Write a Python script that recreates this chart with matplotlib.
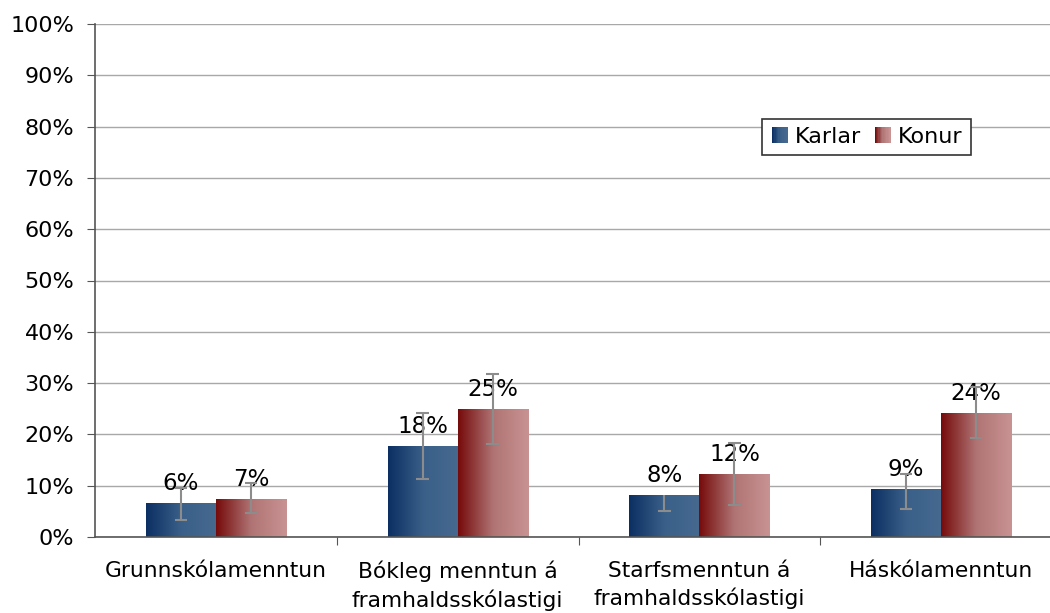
import numpy as np
import matplotlib
matplotlib.use("Agg")
import matplotlib.pyplot as plt
from matplotlib.colors import LinearSegmentedColormap
from matplotlib.patches import Rectangle
from matplotlib.legend_handler import HandlerPatch

categories = ["Grunnskólamenntun", "Bókleg menntun á\nframhaldsskólastigi",
              "Starfsmenntun á\nframhaldsskólastigi", "Háskólamenntun"]
karlar = [0.066, 0.177, 0.082, 0.094]
konur = [0.074, 0.250, 0.123, 0.242]
karlar_err_lo = [0.033, 0.064, 0.031, 0.039]
karlar_err_hi = [0.029, 0.065, 0.0, 0.029]
konur_err_lo = [0.027, 0.069, 0.061, 0.049]
konur_err_hi = [0.031, 0.068, 0.060, 0.050]
labels_karlar = ["6%", "18%", "8%", "9%"]
labels_konur = ["7%", "25%", "12%", "24%"]

blue_cmap = LinearSegmentedColormap.from_list("blue", ["#0b2f62", "#3a6089", "#46698f"])
red_cmap = LinearSegmentedColormap.from_list("red", ["#760a0a", "#b07474", "#c99393"])

plt.rcParams['font.family'] = ['DejaVu Sans']

fig = plt.figure(figsize=(10.5, 6.13), dpi=100)
ax = fig.add_axes([95 / 1050, (613 - 537) / 613, 967 / 1050, 513 / 613])

x = np.arange(len(categories))
w = 0.29


def grad_bars(xs, vals, cmap):
    bars = ax.bar(xs, vals, w, facecolor="none", edgecolor="none", zorder=2)
    grad = np.linspace(0, 1, 256).reshape(1, -1)
    for b in bars:
        x0, y0 = b.get_x(), b.get_y()
        im = ax.imshow(grad, cmap=cmap, aspect="auto", zorder=2,
                       extent=[x0, x0 + b.get_width(), y0, y0 + b.get_height()])
        im.set_clip_path(b)
    return bars


grad_bars(x - w / 2, karlar, blue_cmap)
grad_bars(x + w / 2, konur, red_cmap)


def err_bars(xs, vals, lo, hi):
    cap = 0.026
    for xi, v, l, h in zip(xs, vals, lo, hi):
        ax.vlines(xi, v - l, v + h, color="#8c8c8c", lw=1.5, zorder=4)
        ax.hlines(v - l, xi - cap, xi + cap, color="#8c8c8c", lw=1.5, zorder=4)
        if h > 0:
            ax.hlines(v + h, xi - cap, xi + cap, color="#8c8c8c", lw=1.5, zorder=4)


err_bars(x - w / 2, karlar, karlar_err_lo, karlar_err_hi)
err_bars(x + w / 2, konur, konur_err_lo, konur_err_hi)

for xs, vals, labs in [(x - w / 2, karlar, labels_karlar), (x + w / 2, konur, labels_konur)]:
    for xi, v, lab in zip(xs, vals, labs):
        ax.annotate(lab, (xi, v), xytext=(0, 9.5), textcoords="offset points",
                    ha="center", va="baseline", fontsize=16.5, zorder=3)

ax.set_xlim(-0.5, len(categories) - 0.5)
ax.set_ylim(0, 1)
yt = np.arange(0, 1.01, 0.1)
ax.set_yticks(yt)
ax.set_yticklabels([f"{int(round(t * 100))}%" for t in yt], fontsize=16)
ax.yaxis.grid(True, color="#a8a8a8", linewidth=1.0)
ax.set_axisbelow(True)

ax.set_xticks(np.arange(0.5, len(categories) - 1, 1))
ax.set_xticklabels([])
ax.set_xticks(x, minor=True)
ax.set_xticklabels(categories, minor=True, fontsize=15.7, linespacing=1.4, va="top")
ax.tick_params(axis="x", which="minor", length=0, pad=17)
ax.tick_params(axis="x", which="major", length=6, color="#555555")
ax.tick_params(axis="y", length=6, color="#555555", pad=9)

for s in ["top", "right"]:
    ax.spines[s].set_visible(False)
for s in ["left", "bottom"]:
    ax.spines[s].set_color("#555555")
    ax.spines[s].set_linewidth(1.2)


class GradHandler(HandlerPatch):
    def __init__(self, cmap):
        super().__init__()
        self.cmap = cmap

    def create_artists(self, legend, orig_handle, xdescent, ydescent, width,
                       height, fontsize, trans):
        size = 11.5
        x0 = -xdescent + width - size
        y0 = -ydescent + (height - size) / 2
        n = 12
        arts = []
        for i in range(n):
            r = Rectangle((x0 + i * size / n, y0), size / n + 0.3, size,
                          facecolor=self.cmap(i / (n - 1)), edgecolor="none",
                          transform=trans)
            arts.append(r)
        return arts


hk = Rectangle((0, 0), 1, 1)
hw = Rectangle((0, 0), 1, 1)
leg = ax.legend([hk, hw], ["Karlar", "Konur"], ncol=2, fontsize=16,
                loc="upper left", bbox_to_anchor=(762 / 1050, 1 - 119 / 613),
                bbox_transform=fig.transFigure, fancybox=False, framealpha=1,
                edgecolor="#333333", handlelength=0.8, handletextpad=0.35,
                columnspacing=0.5, borderpad=0.35, borderaxespad=0,
                handler_map={hk: GradHandler(blue_cmap), hw: GradHandler(red_cmap)})
leg.get_frame().set_linewidth(1.2)

fig.savefig("out.png", dpi=100)
